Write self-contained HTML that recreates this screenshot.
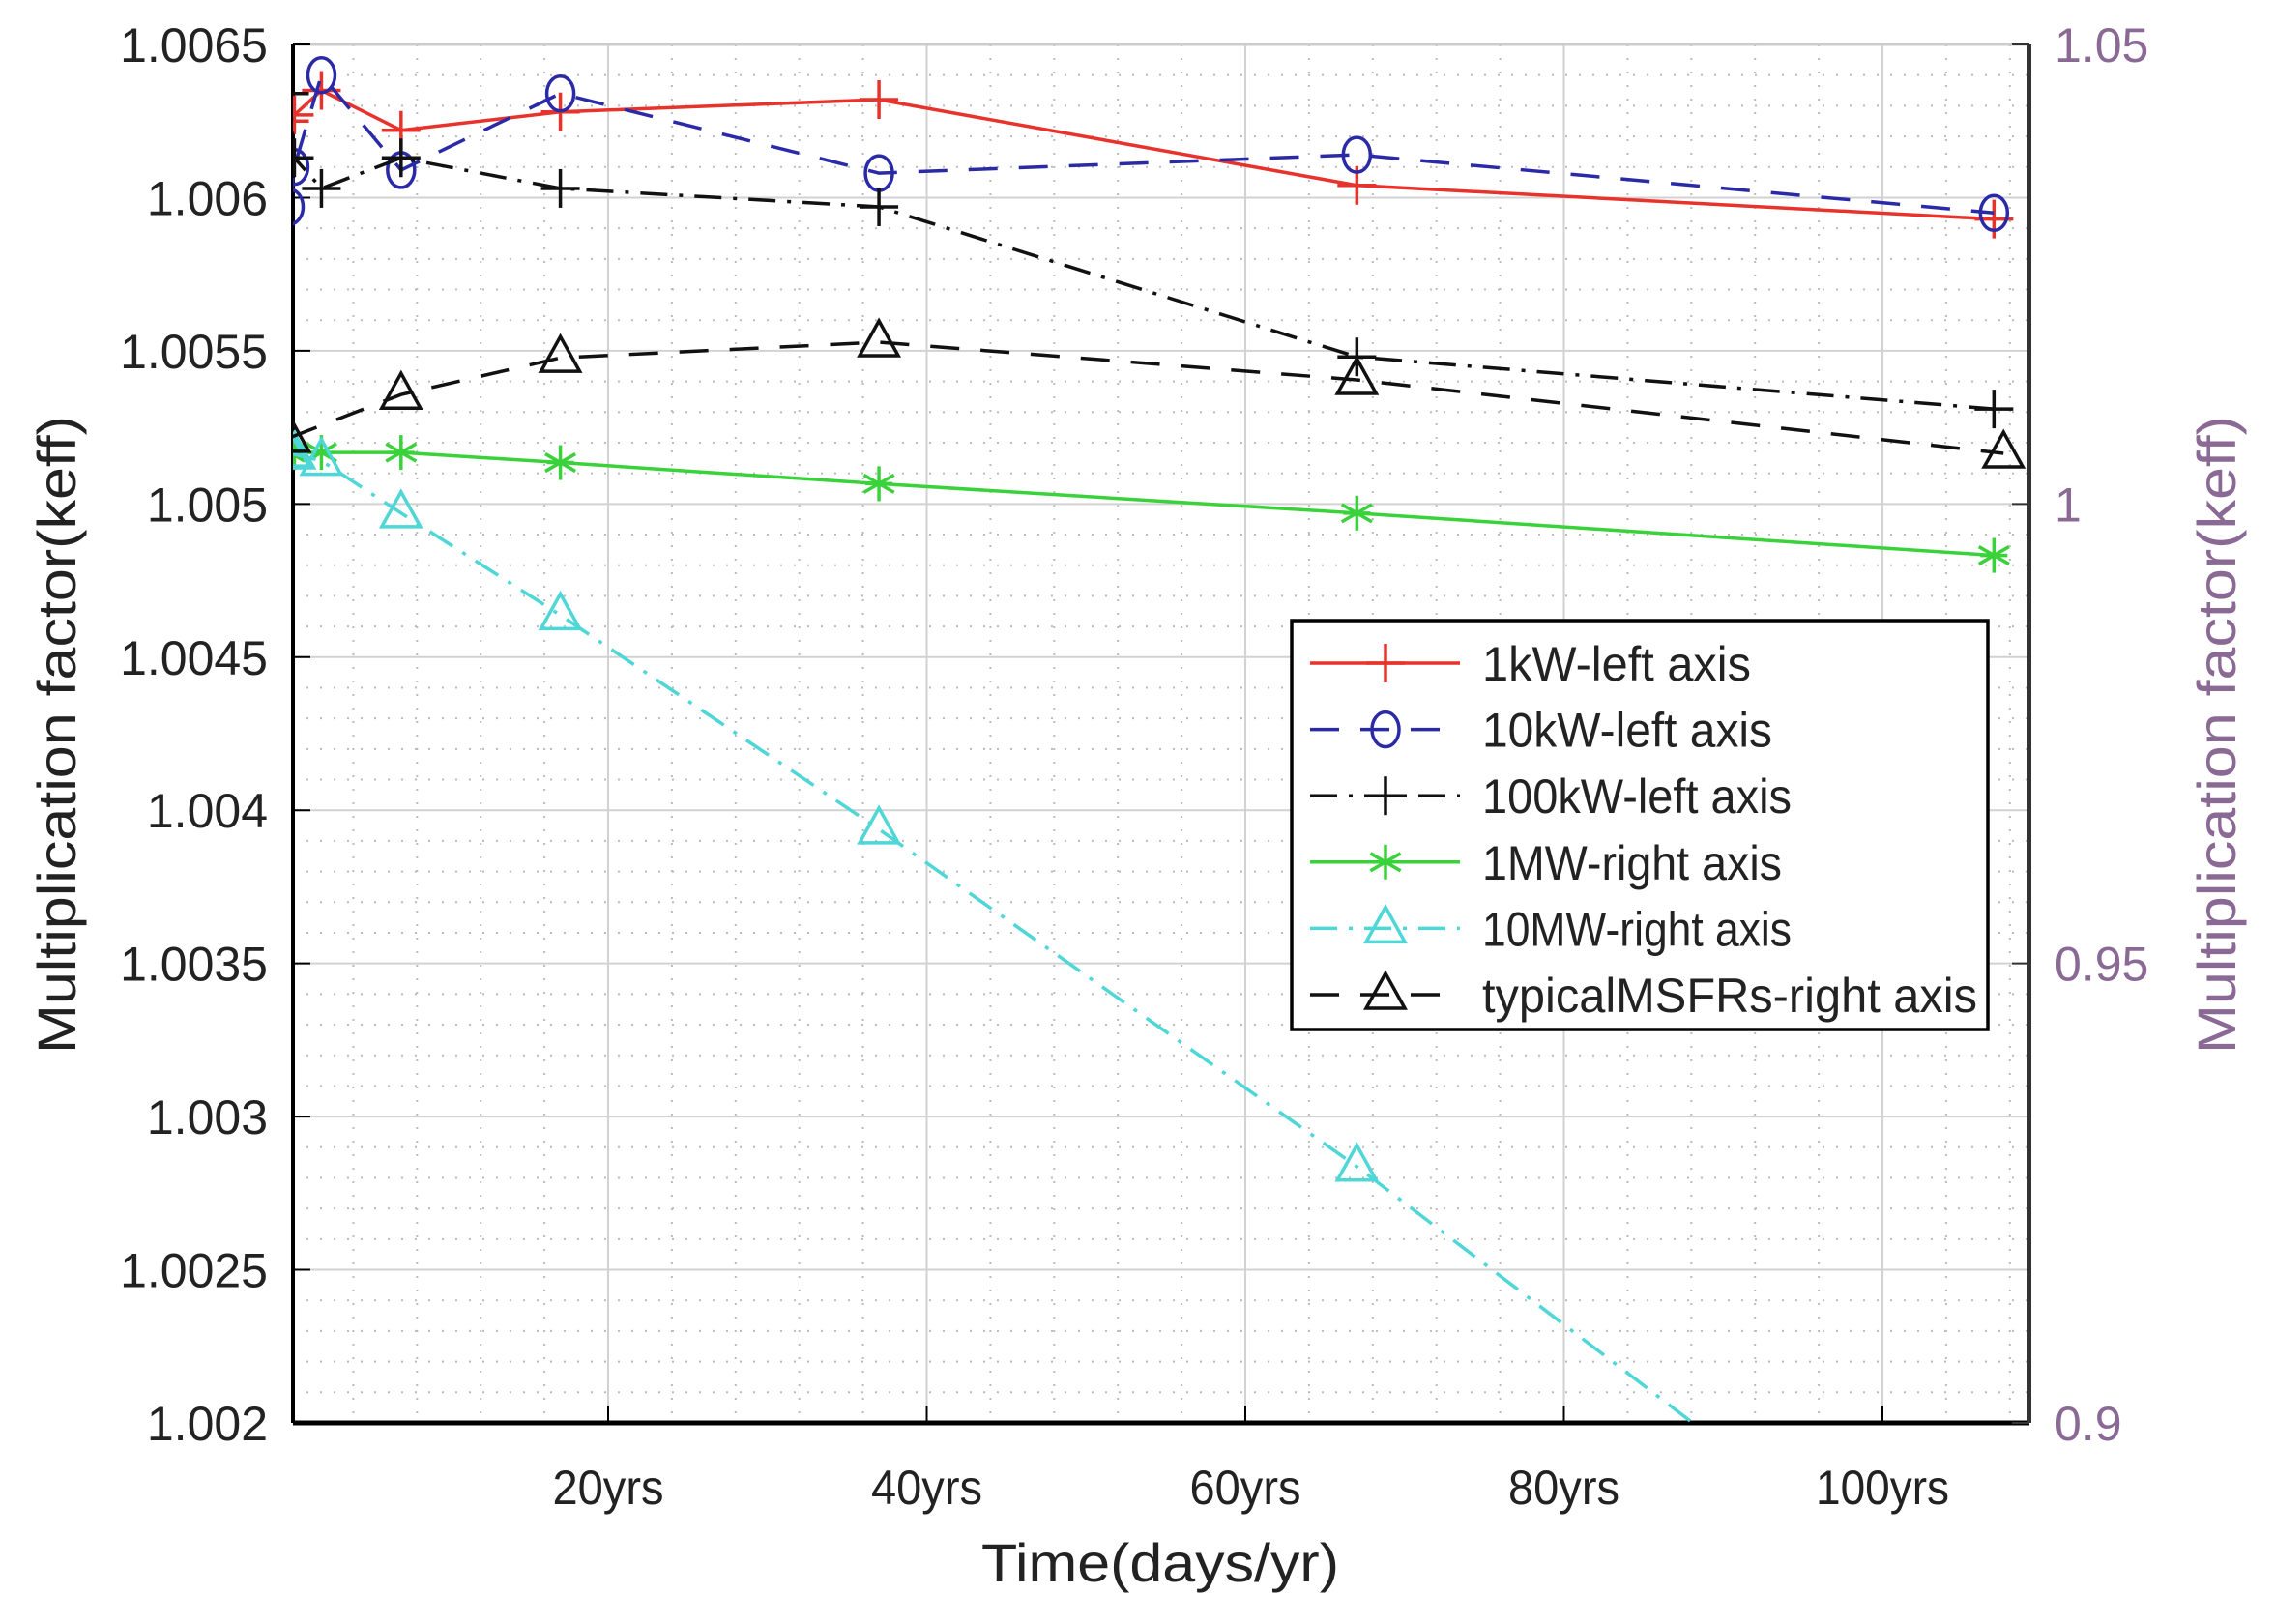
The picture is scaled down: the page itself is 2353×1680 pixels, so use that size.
<!DOCTYPE html>
<html><head><meta charset="utf-8"><style>
body{margin:0;background:#fff}
svg{display:block;font-family:"Liberation Sans",sans-serif}
</style></head><body>
<svg id="c" width="2353" height="1680" viewBox="0 0 2353 1680"></svg>
<script>
const xTicks=[20,40,60,80,100];
const xTickLabels=["20yrs","40yrs","60yrs","80yrs","100yrs"];
const leftTicks=[1.002,1.0025,1.003,1.0035,1.004,1.0045,1.005,1.0055,1.006,1.0065];
const leftTickLabels=["1.002","1.0025","1.003","1.0035","1.004","1.0045","1.005","1.0055","1.006","1.0065"];
const rightTicks=[0.9,0.95,1,1.05];
const rightTickLabels=["0.9","0.95","1","1.05"];
const xYears=[0,0.3,2,7,17,37,67,107];
const kw1=[1.00625,1.00627,1.00635,1.00622,1.00628,1.00632,1.00604,1.00593];
const kw10=[1.00597,1.0061,1.0064,1.00609,1.00634,1.00608,1.00614,1.00595];
const kw100=[1.00634,1.00613,1.00603,1.00613,1.00603,1.00597,1.00548,1.00531];
const mw1=[1.0056,1.0056,1.0056,1.0056,1.0045,1.0022,0.999,0.9944];
const mw10=[1.0056,1.0054,1.0047,0.999,0.9879,0.9646,0.9279,0.875];
const msfrX=[0,7,17,37,67,107.6];
const msfr=[1.0072,1.0119,1.0159,1.0176,1.0135,1.0055];

const svg=document.getElementById('c');const NS='http://www.w3.org/2000/svg';
const L=303,R=2099,T=46,B=1472;
const X=v=>299.5+v*16.475;
const YL=v=>B-(v-1.002)/0.0045*(B-T);
const YR=v=>B-(v-0.9)/0.15*(B-T);
function el(tag,attrs,parent){const e=document.createElementNS(NS,tag);for(const k in attrs)e.setAttribute(k,attrs[k]);(parent||svg).appendChild(e);return e;}
const defs=el('defs',{});const cp=el('clipPath',{id:'clip'},defs);el('rect',{x:L,y:T,width:R-L,height:B-T},cp);
const grid=el('g',{});


for(let v=4;X(v)<R;v+=4){if(v%20)el('line',{x1:X(v),x2:X(v),y1:T,y2:B,stroke:'#bbb','stroke-width':2,'stroke-dasharray':'2 12'},grid);}
for(let i=1;i<45;i++){if(i%5){const y=YL(1.002+i*0.0001);el('line',{x1:L,x2:R,y1:y,y2:y,stroke:'#bbb','stroke-width':2,'stroke-dasharray':'2 12'},grid);}}
xTicks.forEach(v=>el('line',{x1:X(v),x2:X(v),y1:T,y2:B,stroke:'#d2d2d2','stroke-width':2},grid));
leftTicks.forEach(v=>el('line',{x1:L,x2:R,y1:YL(v),y2:YL(v),stroke:'#d2d2d2','stroke-width':2},grid));
el('line',{x1:L,x2:R,y1:T,y2:T,stroke:'#ccc','stroke-width':3});
el('line',{x1:L,x2:L,y1:T,y2:B,stroke:'#000','stroke-width':4});
el('line',{x1:L,x2:R,y1:B,y2:B,stroke:'#000','stroke-width':5});
el('line',{x1:R,x2:R,y1:T,y2:B,stroke:'#333','stroke-width':4});
const st='transform-box:fill-box;transform-origin:center;';
xTicks.forEach((v,i)=>{el('line',{x1:X(v),x2:X(v),y1:B,y2:B-18,stroke:'#000','stroke-width':2});
 const t=el('text',{x:X(v),y:B+84,'font-size':50,'text-anchor':'middle',fill:'#222',textLength:xTickLabels[i].length*23,lengthAdjust:'spacingAndGlyphs'});t.textContent=xTickLabels[i];
 
 });
leftTicks.forEach((v,i)=>{el('line',{x1:L,x2:L+18,y1:YL(v),y2:YL(v),stroke:'#000','stroke-width':2});
 const t=el('text',{x:L-26,y:YL(v)+18,'font-size':50,'text-anchor':'end',fill:'#222'});t.textContent=leftTickLabels[i];
 
 });
rightTicks.forEach((v,i)=>{el('line',{x1:R,x2:R-18,y1:YR(v),y2:YR(v),stroke:'#333','stroke-width':2});
 const t=el('text',{x:R+26,y:YR(v)+18,'font-size':50,'text-anchor':'start',fill:'#8a6a95'});t.textContent=rightTickLabels[i];
 
 });
let t=el('text',{x:1200,y:1636,'font-size':56,'text-anchor':'middle',fill:'#222',textLength:370,lengthAdjust:'spacingAndGlyphs'});t.textContent='Time(days/yr)';


t=el('text',{x:0,y:0,'font-size':56,'text-anchor':'middle',fill:'#222',textLength:660,lengthAdjust:'spacingAndGlyphs',transform:'translate(78,760) rotate(-90)'});t.textContent='Multiplication factor(keff)';


t=el('text',{x:0,y:0,'font-size':56,'text-anchor':'middle',fill:'#8a6a95',textLength:660,lengthAdjust:'spacingAndGlyphs',transform:'translate(2312,760) rotate(-90)'});t.textContent='Multiplication factor(keff)';



function marker(g,type,x,y,c){
 if(type==='+'){el('line',{x1:x-20,x2:x+20,y1:y,y2:y,stroke:c,'stroke-width':3.5},g);el('line',{x1:x,x2:x,y1:y-20,y2:y+20,stroke:c,'stroke-width':3.5},g);}
 else if(type==='o'){el('ellipse',{cx:x,cy:y,rx:14,ry:18,fill:'none',stroke:c,'stroke-width':3.5},g);}
 else if(type==='*'){[0,60,120].forEach(a=>{const r=a*Math.PI/180;el('line',{x1:x-18*Math.sin(r),x2:x+18*Math.sin(r),y1:y-18*Math.cos(r),y2:y+18*Math.cos(r),stroke:c,'stroke-width':3.5},g);});el('line',{x1:x-14,x2:x+14,y1:y,y2:y,stroke:c,'stroke-width':3.5},g);}
 else if(type==='^'){el('polygon',{points:`${x},${y-22} ${x-20},${y+14} ${x+20},${y+14}`,fill:'none',stroke:c,'stroke-width':3.5},g);}
}
const series=[
 {name:'series-1kw',xs:xYears,ys:kw1,Y:YL,c:'#e8322c',d:'',m:'+'},
 {name:'series-10kw',xs:xYears,ys:kw10,Y:YL,c:'#2a2aa8',d:'30 22',m:'o'},
 {name:'series-100kw',xs:xYears,ys:kw100,Y:YL,c:'#111',d:'28 12 4 12',m:'+'},
 {name:'series-1mw',xs:xYears,ys:mw1,Y:YR,c:'#3ad23a',d:'',m:'*'},
 {name:'series-10mw',xs:xYears,ys:mw10,Y:YR,c:'#4fd6d6',d:'28 12 4 12',m:'^'},
 {name:'series-typical-msfrs',xs:msfrX,ys:msfr,Y:YR,c:'#111',d:'30 22',m:'^'}
];
series.forEach(s=>{
 const g=el('g',{'clip-path':'url(#clip)'});
 
 
 const pts=s.xs.map((x,i)=>X(x)+','+s.Y(s.ys[i])).join(' ');
 el('polyline',{points:pts,fill:'none',stroke:s.c,'stroke-width':3.5,'stroke-dasharray':s.d},g);
 s.xs.forEach((x,i)=>marker(g,s.m,X(x),s.Y(s.ys[i]),s.c));
});
const lg=el('g',{});


el('rect',{x:1336,y:642,width:720,height:423,fill:'#fff',stroke:'#000','stroke-width':3.5},lg);
const labels=['1kW-left axis','10kW-left axis','100kW-left axis','1MW-right axis','10MW-right axis','typicalMSFRs-right axis'];
const lens=[278,300,320,310,320,512];
series.forEach((s,i)=>{const y=686+i*68.6;
 el('line',{x1:1355,x2:1510,y1:y,y2:y,stroke:s.c,'stroke-width':3.5,'stroke-dasharray':s.d},lg);
 marker(lg,s.m,1433,y,s.c);
 const tx=el('text',{x:1533,y:y+18,'font-size':50,fill:'#222',textLength:lens[i],lengthAdjust:'spacingAndGlyphs'},lg);tx.textContent=labels[i];
 
 
});
</script>
</body></html>
